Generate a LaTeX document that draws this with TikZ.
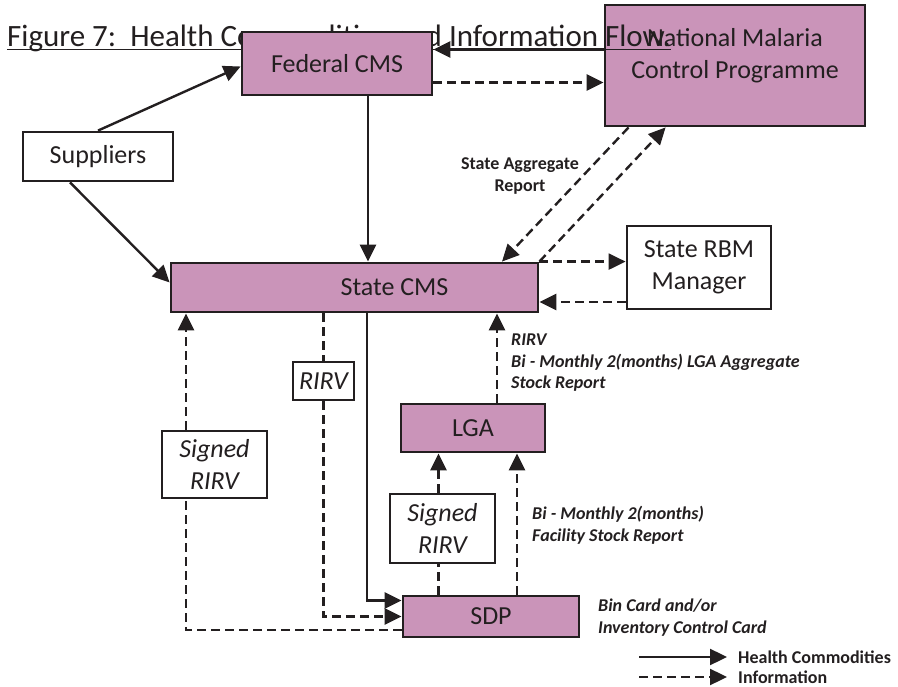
\documentclass[tikz,border=0pt]{standalone}
\usepackage{fontspec}
\setmainfont{Carlito}
\usetikzlibrary{arrows.meta,calc}
\definecolor{ink}{RGB}{35,31,32}
\definecolor{mauve}{RGB}{202,148,185}
\begin{document}
\begin{tikzpicture}[x=1pt,y=-1pt,
  font=\fontsize{26}{31.5}\selectfont, text=ink,
  stage/.style={draw=ink, line width=2.8pt, fill=mauve, inner sep=0pt, align=center},
  doc/.style={draw=ink, line width=2.8pt, fill=white, inner sep=0pt, align=center},
  flow/.style={draw=ink, line width=2.4pt, -{Triangle[length=17pt,width=16pt]}},
  info/.style={flow, dash pattern=on 9pt off 5pt},
  infoline/.style={draw=ink, line width=2.4pt, dash pattern=on 9pt off 5pt},
  note/.style={font=\fontsize{18}{21.5}\selectfont\bfseries\itshape, align=left, inner sep=0pt},
  plain note/.style={font=\fontsize{18}{21.5}\selectfont\bfseries, align=center, inner sep=0pt},
]
\useasboundingbox (0,0) rectangle (898,687);

% national programme box sits underneath the heading
\node[stage, minimum width=260pt, minimum height=121pt,
      label={[yshift=10pt,align=center]center:{National Malaria\\Control Programme}}]
      (nmcp) at (735,65.5) {};

% heading with its underline
\node[anchor=base west, inner sep=0pt, font=\fontsize{31}{36}\selectfont] (title) at (7,47)
      {Figure 7:\ \ Health Commodities and Information Flow.};
\draw[ink, line width=1.6pt] ([yshift=-2.5pt]title.base west) -- ([yshift=-2.5pt]title.base east);

% supply chain levels
\node[stage, minimum width=190pt, minimum height=63pt] (fed) at (337,63.5) {Federal CMS};
\node[doc, minimum width=150pt, minimum height=49pt] (sup) at (98,156.5) {Suppliers};
\node[stage, minimum width=367pt, minimum height=49pt,
      label={[xshift=40pt]center:State CMS}] (scms) at (354.5,287.5) {};
\node[doc, minimum width=144pt, minimum height=83pt] (rbm) at (699,267.5) {State RBM\\Manager};
\node[doc, minimum width=61pt, minimum height=38pt] (rirv) at (323.5,381) {\itshape RIRV};
\node[doc, minimum width=105pt, minimum height=67pt] (sgn1) at (214.5,464.5) {\itshape Signed\\\itshape RIRV};
\node[stage, minimum width=144pt, minimum height=48pt] (lga) at (473,428) {LGA};
\node[doc, minimum width=105pt, minimum height=69pt] (sgn2) at (442.5,528.5) {\itshape Signed\\\itshape RIRV};
\node[stage, minimum width=176pt, minimum height=41pt] (sdp) at (491,616.5) {SDP};

% commodity flows
\draw[flow] (sup.north) -- ([yshift=-3pt]fed.west);
\draw[flow] ([xshift=-28pt]sup.south) -- ([yshift=5pt]scms.west);
\draw[flow] ([xshift=31pt]fed.south) -- ([xshift=31pt]fed.south |- scms.north);
\draw[flow] ([yshift=16pt]nmcp.west) -- ([yshift=16pt]nmcp.west -| fed.east);
\draw[flow] ([xshift=12.5pt]scms.south) |- ([yshift=16pt]sdp.west);

% information flows
\draw[info] ([yshift=-17pt]nmcp.west -| fed.east) -- ([yshift=-17pt]nmcp.west);
\draw[info] ([xshift=25pt]nmcp.south west) -- ([xshift=147.5pt]scms.north);
\draw[info] (scms.north east) -- ([xshift=62pt]nmcp.south west);
\draw[info] (scms.north east) -- (scms.north east -| rbm.west);
\draw[info] ([yshift=-34.5pt]rbm.west) -- ([yshift=-34.5pt]rbm.west -| scms.east);
\draw[infoline] (rirv.north |- scms.south) -- (rirv.north);
\draw[info] (rirv.south) |- (sdp.west);
\draw[infoline] ([yshift=-13.5pt]sdp.west) -| ([xshift=-28.5pt]sgn1.south);
\draw[info] ([xshift=-28.5pt]sgn1.north) -- ([xshift=-28.5pt]sgn1.north |- scms.south);
\draw[info] ([xshift=24pt]lga.north) -- ([xshift=24pt]lga.north |- scms.south);
\draw[infoline] ([xshift=-4pt]sgn2.south |- sdp.north) -- ([xshift=-4pt]sgn2.south);
\draw[info] ([xshift=-4pt]sgn2.north) -- ([xshift=-4pt]sgn2.north |- lga.south);
\draw[info] ([xshift=44pt]lga.south |- sdp.north) -- ([xshift=44pt]lga.south);

% flow annotations
\node[plain note] (sarep) at (520,176) {State Aggregate\\Report};
\node[note, anchor=west] (lgarep) at (511,363) {RIRV\\Bi - Monthly 2(months) LGA Aggregate\\Stock Report};
\node[note, anchor=west] (facrep) at (532,525) {Bi - Monthly 2(months)\\Facility Stock Report};
\node[note, anchor=west] (bincard) at (598,617.5) {Bin Card and/or\\Inventory Control Card};

% key
\coordinate (k1a) at (639,657);
\coordinate (k1b) at (727,657);
\coordinate (k2a) at (639,677);
\coordinate (k2b) at (727,677);
\draw[flow] (k1a) -- (k1b);
\draw[info] (k2a) -- (k2b);
\node[plain note, anchor=west] (k1t) at (738,657) {Health Commodities};
\node[plain note, anchor=west] (k2t) at (738,677) {Information};
\end{tikzpicture}
\end{document}
